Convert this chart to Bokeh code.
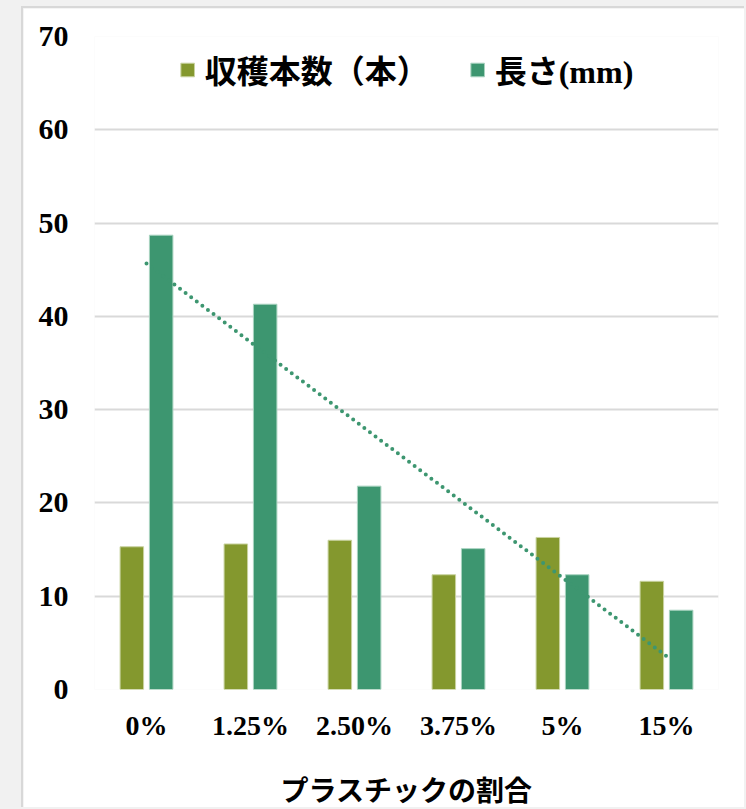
from bokeh.plotting import figure
from bokeh.models import FactorRange, Range1d, Legend, LegendItem, ColumnDataSource, SingleIntervalTicker
from bokeh.transform import dodge
from bokeh.layouts import column
from bokeh.embed import file_html
from bokeh.resources import INLINE
import numpy as np

categories = ["0%", "1.25%", "2.50%", "3.75%", "5%", "15%"]
harvest = [15.3, 15.6, 16.0, 12.3, 16.3, 11.6]
length = [48.7, 41.3, 21.8, 15.1, 12.3, 8.5]
series_names = ["収穫本数（本）", "長さ(mm)"]
x_title = "プラスチックの割合"

OLIVE = "#84982E"
TEAL = "#3D9670"
FONT = "'Liberation Serif', 'Noto Sans CJK JP'"

# linear trendline of 長さ
xs = np.arange(1, len(length) + 1)
slope, intercept = np.polyfit(xs, length, 1)
trend = list(slope * xs + intercept)

src = ColumnDataSource(dict(cat=categories, harvest=harvest, length=length, trend=trend))

p = figure(x_range=FactorRange(*categories), y_range=Range1d(0, 70),
           width=723, height=801, output_backend="svg", toolbar_location=None,
           min_border_left=71, min_border_right=28, min_border_top=28, min_border_bottom=119)
p.margin = (6, 0, 0, 21)
p.styles = {"border-left": "2px solid #d8d8d8", "border-top": "2px solid #d8d8d8"}
p.outline_line_color = None
p.background_fill_color = "white"
p.border_fill_color = "white"

r1 = p.vbar(x=dodge("cat", -0.141, range=p.x_range), top="harvest", width=0.226, source=src,
            fill_color=OLIVE, line_color="#c9d3a0", line_width=1)
r2 = p.vbar(x=dodge("cat", 0.141, range=p.x_range), top="length", width=0.226, source=src,
            fill_color=TEAL, line_color="#a9d3c0", line_width=1)
p.line(x="cat", y="trend", source=src, line_color=TEAL, line_width=4,
       line_dash="0 7", line_cap="round")

p.yaxis.ticker = SingleIntervalTicker(interval=10)
p.ygrid.grid_line_color = "#d9d9d9"
p.ygrid.grid_line_width = 2
p.xgrid.grid_line_color = None

for ax in (p.xaxis, p.yaxis):
    ax.axis_line_color = None
    ax.major_tick_line_color = None
    ax.minor_tick_line_color = None
    ax.major_label_text_font = FONT
    ax.major_label_text_font_style = "bold"
    ax.major_label_text_color = "black"

p.yaxis.major_label_text_font_size = "30px"
p.xaxis.major_label_text_font_size = "28px"
p.yaxis.major_label_standoff = 20
p.xaxis.major_label_standoff = 14

p.xaxis.axis_label = x_title
p.xaxis.axis_label_text_font = FONT
p.xaxis.axis_label_text_font_style = "bold"
p.xaxis.axis_label_text_font_size = "28px"
p.xaxis.axis_label_text_color = "black"
p.xaxis.axis_label_standoff = 32

legend = Legend(items=[LegendItem(label=series_names[0], renderers=[r1]),
                       LegendItem(label=series_names[1], renderers=[r2])],
                location="top_center", orientation="horizontal")
legend.label_text_font = FONT
legend.label_text_font_style = "bold"
legend.label_text_font_size = "32px"
legend.label_text_color = "black"
legend.glyph_width = 17
legend.glyph_height = 17
legend.label_standoff = 9
legend.spacing = 40
legend.padding = 0
legend.margin = 10
legend.border_line_color = None
legend.background_fill_alpha = 0
p.add_layout(legend)

layout = column(p, width=746, height=809, styles={"background-color": "#f1f1f1"})
open("out.html", "w").write(file_html(layout, INLINE))
